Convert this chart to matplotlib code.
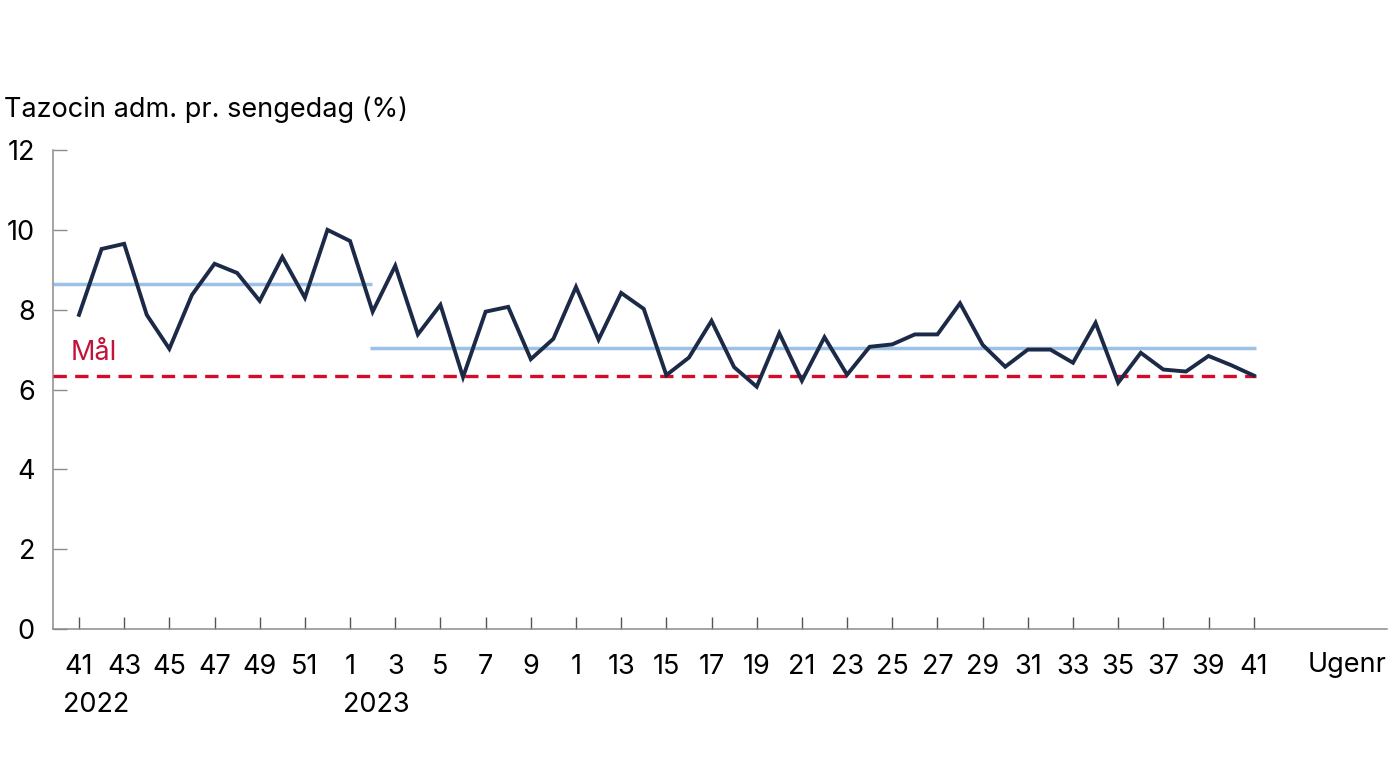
import numpy as np
import matplotlib.pyplot as plt
from matplotlib.transforms import blended_transform_factory

plt.rcParams['font.family'] = ['Inter', 'DejaVu Sans']

# weekly values, week 41 2022 .. week 41 2023
weeks = list(range(41, 53)) + list(range(1, 42))
tazocin = [7.87, 9.52, 9.65, 7.87, 7.02, 8.37, 9.15, 8.92, 8.22, 9.32,
           8.30, 10.0, 9.72, 7.95, 9.10, 7.38, 8.12, 6.31, 7.95, 8.07,
           6.76, 7.27, 8.57, 7.25, 8.42, 8.02, 6.36, 6.80, 7.72, 6.56,
           6.07, 7.41, 6.22, 7.31, 6.37, 7.07, 7.13, 7.38, 7.38, 8.16,
           7.12, 6.57, 7.00, 7.00, 6.67, 7.67, 6.17, 6.92, 6.50, 6.45,
           6.84, 6.61, 6.35]
tick_labels = ['41', '43', '45', '47', '49', '51', '1', '3', '5', '7', '9', '1',
               '13', '15', '17', '19', '21', '23', '25', '27', '29', '31', '33',
               '35', '37', '39', '41']
years = ['2022', '2023']
median_before = 8.65
median_after = 7.05
maal = 6.35
shift_idx = 13  # week 2 2023

x = np.arange(len(tazocin))
x_lo, x_hi = -1.15, 57.9
fs = 19.5

fig = plt.figure(figsize=(13.9, 7.8), dpi=100)
ax = fig.add_axes([53 / 1390, 1 - 629 / 780, (1387 - 53) / 1390, (629 - 150) / 780])

# baselines and goal
ax.plot([x_lo, shift_idx - 0.05], [median_before, median_before],
        color='#9dc0e6', lw=2.5, solid_capstyle='butt', zorder=2)
ax.plot([shift_idx - 0.1, x[-1] + 0.1], [median_after, median_after],
        color='#9dc0e6', lw=2.5, solid_capstyle='butt', zorder=2)
ax.plot([x_lo, x[-1] + 0.1], [maal, maal], color='#d50b2b', lw=2.4,
        dashes=(4.0, 2.5), zorder=3)
ax.text(-0.35, maal + 0.4, 'Mål', color='#c0143a', fontsize=fs,
        ha='left', va='baseline')

ax.plot(x, tazocin, color='#1c2a48', lw=2.8, solid_joinstyle='miter', zorder=4)

ax.set_xlim(x_lo, x_hi)
ax.set_ylim(0, 12)
ax.set_yticks(range(0, 13, 2))
ax.set_xticks(x[::2])
ax.set_xticklabels(tick_labels)

for s in ['top', 'right']:
    ax.spines[s].set_visible(False)
for s in ['left', 'bottom']:
    ax.spines[s].set_color('#8c8c8c')
    ax.spines[s].set_linewidth(1.1)

ax.tick_params(axis='y', direction='in', length=10, width=1.0, color='#8c8c8c',
               labelsize=fs, pad=13)
ax.tick_params(axis='x', direction='in', length=9, width=1.0, color='#555555',
               labelsize=fs, pad=18)

# year labels below the week numbers
trans = blended_transform_factory(ax.transData, fig.transFigure)
ax.text(-0.72, 1 - 712 / 780, years[0], transform=trans, fontsize=fs,
        ha='left', va='baseline')
ax.text(12 - 0.3, 1 - 712 / 780, years[1], transform=trans, fontsize=fs,
        ha='left', va='baseline')

fig.text(1386 / 1390, 1 - 672 / 780, 'Ugenr', fontsize=fs, ha='right', va='baseline')
fig.text(4 / 1390, 1 - 117 / 780, 'Tazocin adm. pr. sengedag (%)', fontsize=fs,
         ha='left', va='baseline')

fig.savefig('out.png', dpi=100)
